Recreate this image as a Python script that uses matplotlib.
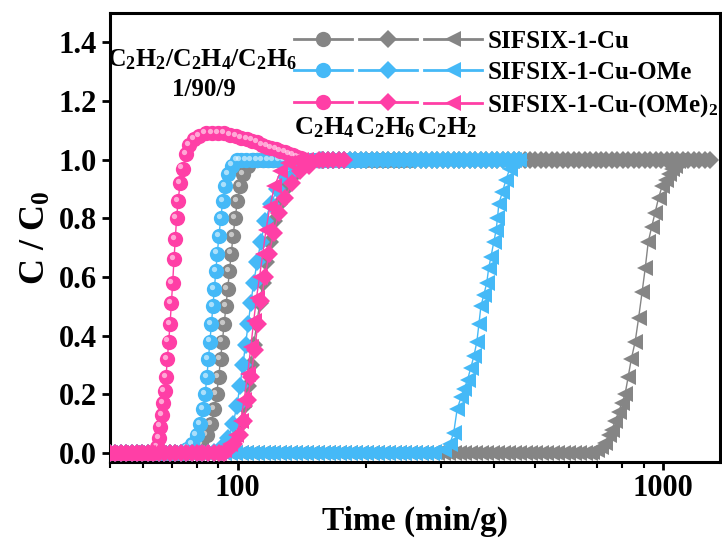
import matplotlib
matplotlib.use('Agg')
import matplotlib.pyplot as plt
from matplotlib.lines import Line2D
from matplotlib.transforms import ScaledTranslation

plt.rcParams['font.family'] = 'Liberation Serif'
plt.rcParams['font.weight'] = 'bold'
plt.rcParams['mathtext.fontset'] = 'custom'
plt.rcParams['mathtext.rm'] = 'Liberation Serif:bold'
plt.rcParams['mathtext.bf'] = 'Liberation Serif:bold'
plt.rcParams['mathtext.it'] = 'Liberation Serif:bold'

# shared sampling times (min/g) used for the flat baseline / plateau parts
grid_t = [50, 51.5, 53, 54.6, 56.3, 58, 59.7, 61.5, 63.3, 65.2, 67.2, 69.2, 71.3, 73.4, 75.6,
          77.9, 80.2, 82.6, 85.1, 87.7, 90.3, 93, 95.8, 98.7, 101.6, 104.7, 107.8, 111, 114.4,
          117.8, 121.3, 125, 128.7, 132.6, 136.6, 140.7, 144.9, 149.2, 153.7, 158.3, 163, 167.9,
          173, 178.2, 183.5, 189, 194.7, 200.5, 206.5, 212.7, 219.1, 225.7, 232.5, 239.4, 246.6,
          254, 261.6, 269.5, 277.5, 285.9, 294.4, 303.3, 312.4, 321.7, 331.4, 341.3, 351.6,
          362.1, 373, 384.2, 395.7, 407.5, 419.8, 432.4, 445.3, 458.7, 472.4, 486.6, 501.2,
          516.3, 531.7, 547.7, 564.1, 581, 598.5, 616.4, 634.9, 654, 673.6, 693.8, 714.6, 736,
          758.1, 780.9, 804.3, 828.4, 853.3, 878.9, 905.2, 932.4, 960.4, 989.2, 1018.9, 1049.4,
          1080.9, 1113.3, 1146.7, 1181.1, 1216.6, 1253.1, 1290.7]

# --- SIFSIX-1-Cu (gray)
gy_c2h4_t = [76, 79, 82, 84.5, 86.5, 88, 89.2, 90.2, 91.1, 92, 92.9, 93.8, 94.7, 95.6, 96.5,
             97.5, 98.6, 99.8, 101.2, 103, 105.5, 108.5]
gy_c2h4_v = [0.005, 0.015, 0.03, 0.06, 0.1, 0.15, 0.2, 0.26, 0.32, 0.38, 0.44, 0.5, 0.56, 0.62,
             0.68, 0.74, 0.8, 0.86, 0.91, 0.95, 0.98, 1.0]
gy_c2h4_end = 260
gy_c2h6_t = [92, 96, 99, 101.5, 103.5, 105.5, 107.3, 109, 110.8, 112.6, 114.5, 116.6, 119, 121.8,
             125, 129, 134, 140, 148, 158]
gy_c2h6_v = [0.005, 0.02, 0.05, 0.1, 0.16, 0.23, 0.3, 0.37, 0.44, 0.51, 0.58, 0.65, 0.72, 0.79,
             0.85, 0.9, 0.94, 0.97, 0.99, 1.0]
gy_c2h6_end = 1300
gy_c2h2_t = [680, 700, 715, 730, 745, 758, 772, 786, 800, 814, 828, 842, 860, 876, 893, 908, 923,
             940, 958, 976, 995, 1014, 1033, 1050, 1067, 1085, 1101]
gy_c2h2_v = [0.005, 0.01, 0.02, 0.035, 0.06, 0.08, 0.11, 0.14, 0.17, 0.2, 0.26, 0.32, 0.38, 0.46,
             0.55, 0.63, 0.72, 0.77, 0.82, 0.87, 0.91, 0.93, 0.95, 0.97, 0.98, 0.995, 1.0]
gy_c2h2_end = 1101

# --- SIFSIX-1-Cu-OMe (blue)
bl_c2h4_t = [74, 76, 78, 80, 81.5, 82.8, 83.8, 84.6, 85.3, 86, 86.7, 87.4, 88.1, 88.8, 89.5, 90.3,
             91.2, 92.2, 93.4, 95, 97, 99.5]
bl_c2h4_v = [0.005, 0.015, 0.03, 0.06, 0.1, 0.15, 0.2, 0.26, 0.32, 0.38, 0.44, 0.5, 0.56, 0.62,
             0.68, 0.74, 0.8, 0.86, 0.91, 0.95, 0.98, 1.0]
bl_c2h4_end = 200
bl_c2h6_t = [88, 92, 95, 97.5, 99.5, 101.2, 102.8, 104.3, 105.8, 107.3, 109, 111, 113.3, 116,
             119.5, 124, 130, 137, 146, 156]
bl_c2h6_v = [0.005, 0.02, 0.05, 0.1, 0.16, 0.23, 0.3, 0.37, 0.44, 0.51, 0.58, 0.65, 0.72, 0.79,
             0.85, 0.9, 0.94, 0.97, 0.99, 1.0]
bl_c2h6_end = 470
bl_c2h2_t = [290, 305, 315, 322, 328, 335, 341, 347, 353, 359, 365, 369, 373, 379, 385, 389, 394,
             400, 405, 408, 411, 419, 427, 436, 446]
bl_c2h2_v = [0.005, 0.01, 0.03, 0.07, 0.15, 0.19, 0.22, 0.25, 0.29, 0.33, 0.38, 0.44, 0.5, 0.54,
             0.58, 0.63, 0.67, 0.72, 0.76, 0.8, 0.85, 0.89, 0.93, 0.97, 1.0]
bl_c2h2_end = 470

# --- SIFSIX-1-Cu-(OMe)2 (pink)
pk_c2h4_t = [64.5, 65.2, 65.8, 66.3, 66.8, 67.3, 67.8, 68.3, 68.8, 69.3, 69.8, 70.3, 70.8, 71.3,
             71.8, 72.4, 73.2, 74.2, 75.5, 77, 79, 81, 84, 87, 90, 93, 96, 99, 102, 105, 108, 111,
             114, 117, 120, 123, 126, 129, 132, 135, 138, 141]
pk_c2h4_v = [0.02, 0.05, 0.09, 0.13, 0.17, 0.21, 0.26, 0.32, 0.38, 0.44, 0.51, 0.58, 0.66, 0.73,
             0.8, 0.86, 0.92, 0.97, 1.02, 1.05, 1.07, 1.08, 1.09, 1.09, 1.09, 1.09, 1.085, 1.08,
             1.075, 1.07, 1.065, 1.06, 1.05, 1.045, 1.04, 1.035, 1.03, 1.025, 1.02, 1.015, 1.01,
             1.005]
pk_c2h4_end = 141
pk_c2h6_t = [95, 98, 101, 103.5, 105.5, 107.5, 109.5, 111.5, 113.5, 115.8, 118.5, 121.5, 125, 129,
             134, 140, 147, 155]
pk_c2h6_v = [0.01, 0.03, 0.06, 0.11, 0.18, 0.26, 0.35, 0.44, 0.52, 0.6, 0.68, 0.75, 0.82, 0.87,
             0.92, 0.96, 0.98, 1.0]
pk_c2h6_end = 182
pk_c2h2_t = [93, 96, 99, 101.5, 103.5, 105.5, 107.3, 109, 110.7, 112.5, 114.5, 116.5, 119, 122,
             126, 131, 137]
pk_c2h2_v = [0.01, 0.03, 0.06, 0.11, 0.18, 0.27, 0.36, 0.45, 0.53, 0.6, 0.68, 0.76, 0.84, 0.91,
             0.96, 0.99, 1.0]
pk_c2h2_end = 150

names = ['SIFSIX-1-Cu', 'SIFSIX-1-Cu-OMe', 'SIFSIX-1-Cu-(OMe)$_2$']
colors = ['#858585', '#45B9F7', '#FF3FA6']
gases = [r'C$_2$H$_4$', r'C$_2$H$_6$', r'C$_2$H$_2$']
markers = ['o', 'D', '<']
msizes = [11, 9.5, 12]

series = [
    [(gy_c2h4_t, gy_c2h4_v, gy_c2h4_end), (gy_c2h6_t, gy_c2h6_v, gy_c2h6_end), (gy_c2h2_t, gy_c2h2_v, gy_c2h2_end)],
    [(bl_c2h4_t, bl_c2h4_v, bl_c2h4_end), (bl_c2h6_t, bl_c2h6_v, bl_c2h6_end), (bl_c2h2_t, bl_c2h2_v, bl_c2h2_end)],
    [(pk_c2h4_t, pk_c2h4_v, pk_c2h4_end), (pk_c2h6_t, pk_c2h6_v, pk_c2h6_end), (pk_c2h2_t, pk_c2h2_v, pk_c2h2_end)],
]


def full_curve(rise_t, rise_v, end):
    # baseline (0) before breakthrough, measured rise, plateau (last value) up to end
    t = [g for g in grid_t if g < rise_t[0]] + list(rise_t) + [g for g in grid_t if rise_t[-1] < g <= end]
    v = [0.0 for g in grid_t if g < rise_t[0]] + list(rise_v) + [rise_v[-1] for g in grid_t if rise_t[-1] < g <= end]
    return t, v


fig = plt.figure(figsize=(7.22, 5.44), dpi=100)
ax = fig.add_axes([0.152, 0.151, 0.845, 0.825])
shine = ax.transData + ScaledTranslation(-1.6 / 72, 1.6 / 72, fig.dpi_scale_trans)

for m, col in enumerate(colors):
    for g in range(3):
        t, v = full_curve(*series[m][g])
        ax.plot(t, v, color=col, lw=1.0, marker=markers[g], ms=msizes[g],
                markeredgewidth=0, zorder=2 + m)
        if g == 0:
            # little highlight so the balls look shaded like the original
            ax.plot(t, v, ls='none', marker='o', ms=3.8, color='white', alpha=0.55,
                    markeredgewidth=0, transform=shine, zorder=2 + m)

ax.set_xscale('log')
ax.set_xlim(50, 1360)
ax.set_ylim(-0.03, 1.5)
ax.set_yticks([0.0, 0.2, 0.4, 0.6, 0.8, 1.0, 1.2, 1.4])
ax.set_xticks([100, 1000])
ax.set_xticklabels(['100', '1000'])
ax.tick_params(axis='both', which='major', labelsize=22, width=2, length=6, direction='out', pad=3)
ax.tick_params(axis='x', which='minor', width=1.5, length=4, direction='out')
ax.xaxis.set_minor_formatter(plt.NullFormatter())
for s in ax.spines.values():
    s.set_linewidth(2.2)
ax.set_xlabel('Time (min/g)', fontsize=24, fontweight='bold', labelpad=2)
ax.set_ylabel('C / C$_0$', fontsize=26, fontweight='bold', labelpad=4)

# legend: three marker columns, names only after the last one
handles = []
labels = []
for g in range(3):
    for m, col in enumerate(colors):
        handles.append(Line2D([], [], color=col, lw=2, marker=markers[g], ms=msizes[g],
                              markeredgewidth=0))
        labels.append(names[m] if g == 2 else '')
ax.legend(handles, labels, ncol=3, loc='upper left', bbox_to_anchor=(0.285, 0.985),
          frameon=False, fontsize=18, handlelength=2.35, handletextpad=0.2,
          columnspacing=0.05, labelspacing=0.33, borderaxespad=0)

ax.text(0.152, 0.895, r'C$_2$H$_2$/C$_2$H$_4$/C$_2$H$_6$', transform=ax.transAxes,
        ha='center', va='center', fontsize=18.5)
ax.text(0.155, 0.83, '1/90/9', transform=ax.transAxes, ha='center', va='center', fontsize=18)
for g, xg in enumerate([0.352, 0.452, 0.553]):
    ax.text(xg, 0.745, gases[g], transform=ax.transAxes, ha='center', va='center', fontsize=19)

fig.savefig('out.png', dpi=100)
